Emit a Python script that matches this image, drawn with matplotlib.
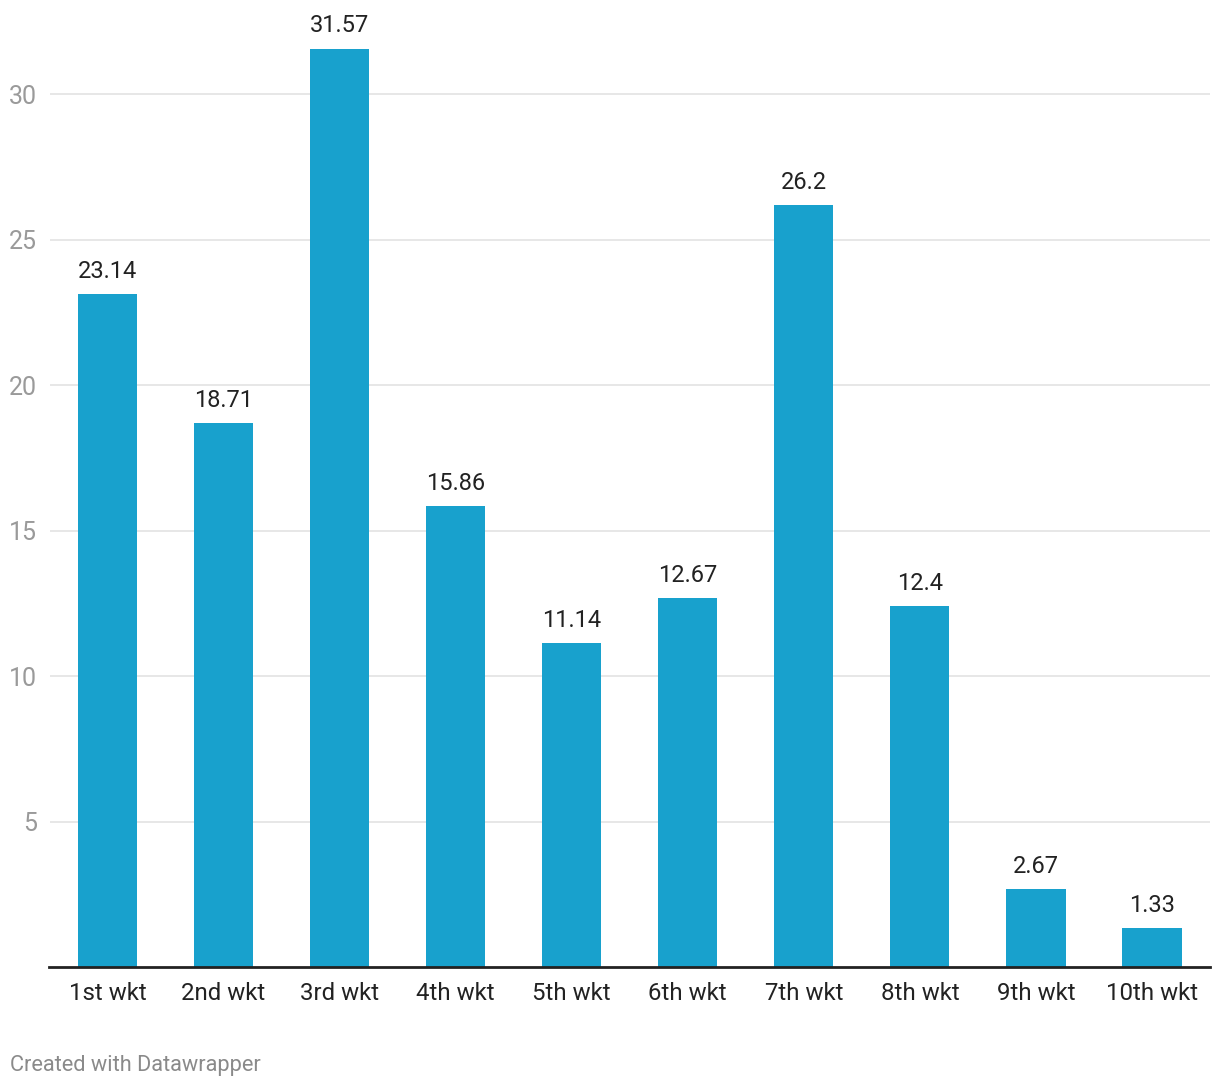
import matplotlib.pyplot as plt

plt.rcParams['font.family'] = ['Roboto', 'DejaVu Sans']

wickets = ['1st wkt', '2nd wkt', '3rd wkt', '4th wkt', '5th wkt',
           '6th wkt', '7th wkt', '8th wkt', '9th wkt', '10th wkt']
averages = [23.14, 18.71, 31.57, 15.86, 11.14, 12.67, 26.2, 12.4, 2.67, 1.33]
value_labels = ['23.14', '18.71', '31.57', '15.86', '11.14',
                '12.67', '26.2', '12.4', '2.67', '1.33']
yticks = [5, 10, 15, 20, 25, 30]

fig = plt.figure(figsize=(12.2, 10.88), dpi=100)
ax = fig.add_axes((49.5 / 1220, 121 / 1088, 1160.5 / 1220, 960 / 1088))

x = range(len(wickets))
bars = ax.bar(x, averages, width=0.51, color='#18a1cd', zorder=2)
for b, lab in zip(bars, value_labels):
    ax.annotate(lab, (b.get_x() + b.get_width() / 2, b.get_height()),
                xytext=(0, 8), textcoords='offset points',
                ha='center', va='bottom', fontsize=17, color='#222222')

ax.set_xlim(-0.5, len(wickets) - 0.5)
ax.set_ylim(0, 33)
ax.set_yticks(yticks)
ax.set_yticklabels([str(t) for t in yticks])
ax.set_xticks(list(x))
ax.set_xticklabels(wickets)
ax.grid(axis='y', color='#e3e3e3', linewidth=1.2, zorder=0)

for s in ['top', 'right', 'left']:
    ax.spines[s].set_visible(False)
ax.spines['bottom'].set_color('#222222')
ax.spines['bottom'].set_linewidth(2)
ax.spines['bottom'].set_zorder(3)

ax.tick_params(axis='y', length=0, pad=9, labelsize=18, labelcolor='#9a9a9a')
ax.tick_params(axis='x', length=0, pad=11, labelsize=17.3, labelcolor='#222222')

fig.text(10 / 1220, 1 - 1065 / 1088, 'Created with Datawrapper', fontsize=15.7,
         color='#8a8a8a', ha='left', va='center')

fig.savefig('out.png', dpi=100)
